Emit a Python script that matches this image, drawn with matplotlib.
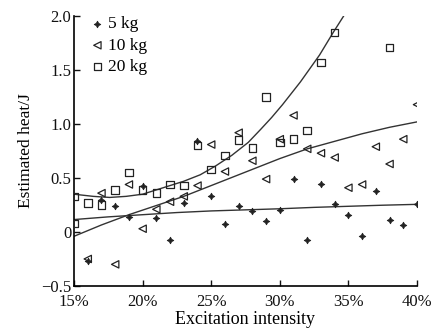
import matplotlib
matplotlib.use("Agg")
import matplotlib.pyplot as plt

# Excitation intensity (%) and estimated heat (J) per load
x_5kg = [16, 17, 18, 19, 20, 21, 22, 23, 24, 25, 26, 27, 28, 29, 30,
         31, 32, 33, 34, 35, 36, 37, 38, 39, 40]
y_5kg = [-0.27, 0.30, 0.24, 0.14, 0.43, 0.13, -0.07, 0.27, 0.84, 0.33, 0.07, 0.24, 0.19, 0.10, 0.20,
         0.49, -0.07, 0.44, 0.26, 0.16, -0.04, 0.38, 0.11, 0.06, 0.26]

x_10kg = [16, 17, 18, 19, 20, 21, 22, 23, 24, 25, 26, 27, 28, 29, 30,
          31, 32, 33, 34, 35, 36, 37, 38, 39, 40]
y_10kg = [-0.25, 0.36, -0.30, 0.44, 0.03, 0.21, 0.28, 0.33, 0.43, 0.81, 0.56, 0.92, 0.66, 0.49, 0.86,
          1.08, 0.77, 0.73, 0.69, 0.41, 0.44, 0.79, 0.63, 0.86, 1.18]

x_20kg = [15, 15, 16, 17, 18, 19, 20, 21, 22, 23, 24, 25, 26, 27, 28,
          29, 30, 31, 32, 33, 34, 38]
y_20kg = [0.33, 0.08, 0.27, 0.25, 0.39, 0.55, 0.39, 0.36, 0.44, 0.43, 0.80, 0.58, 0.71, 0.85, 0.78,
          1.25, 0.83, 0.86, 0.94, 1.57, 1.85, 1.71]

# trend curves
fit_x_5kg = [15, 17.5, 20, 22.5, 25, 27.5, 30, 32.5, 35, 37.5, 40]
fit_y_5kg = [0.115, 0.14, 0.16, 0.18, 0.195, 0.205, 0.215, 0.228, 0.238, 0.248, 0.256]

fit_x_10kg = [15, 17, 19, 21, 23, 25.6, 28, 30, 32, 34, 36, 38, 40]
fit_y_10kg = [-0.04, 0.065, 0.16, 0.245, 0.33, 0.46, 0.58, 0.68, 0.77, 0.84, 0.91, 0.97, 1.02]

fit_x_20kg = [15, 16.4, 17.6, 18.8, 20, 21, 22, 23, 24.2, 25.3, 26.5, 27.7, 28.6,
              29.4, 30.2, 31.5, 32.9, 33.9, 34.65]
fit_y_20kg = [0.35, 0.33, 0.32, 0.33, 0.35, 0.39, 0.43, 0.47, 0.53, 0.61, 0.71, 0.83, 0.95,
              1.06, 1.18, 1.39, 1.64, 1.85, 2.0]

labels = ["5 kg", "10 kg", "20 kg"]

plt.rcParams["font.family"] = ["Liberation Serif", "DejaVu Serif"]

fig = plt.figure(figsize=(4.38, 3.36), dpi=100)
ax = fig.add_axes([0.169, 0.149, 0.783, 0.803])

series = [(x_5kg, y_5kg), (x_10kg, y_10kg), (x_20kg, y_20kg)]
fits = [(fit_x_5kg, fit_y_5kg), (fit_x_10kg, fit_y_10kg), (fit_x_20kg, fit_y_20kg)]
markers = [dict(marker=(4, 1, 0), s=22, facecolors="#222222", edgecolors="#222222", linewidths=0.6),
           dict(marker="<", s=28, facecolors="none", edgecolors="#222222", linewidths=0.9),
           dict(marker="s", s=30, facecolors="none", edgecolors="#222222", linewidths=0.9)]

for (xs, ys), (fx, fy), lab, mk in zip(series, fits, labels, markers):
    ax.scatter(xs, ys, label=lab, zorder=3, **mk)
    ax.plot(fx, fy, color="#333333", linewidth=1.0, zorder=2, solid_joinstyle="round")

ax.set_xlim(15, 40)
ax.set_ylim(-0.5, 2.0)
ax.set_xticks([15, 20, 25, 30, 35, 40])
ax.set_xticklabels(["15%", "20%", "25%", "30%", "35%", "40%"])
ax.set_yticks([-0.5, 0, 0.5, 1.0, 1.5, 2.0])
ax.set_yticklabels(["\u22120.5", "0", "0.5", "1.0", "1.5", "2.0"])
ax.tick_params(direction="in", length=4, width=1, labelsize=12, colors="#111111")
ax.tick_params(axis="x", pad=5.5)
ax.tick_params(axis="y", pad=2)
for side in ["top", "right"]:
    ax.spines[side].set_visible(False)
for side in ["left", "bottom"]:
    ax.spines[side].set_linewidth(1.2)

ax.set_xlabel("Excitation intensity", fontsize=13, labelpad=1)
ax.set_ylabel("Estimated heat/J", fontsize=12.5, labelpad=5)

ax.legend(loc="upper left", bbox_to_anchor=(0.02, 1.025), frameon=False,
          fontsize=12.5, handletextpad=0.05, labelspacing=0.3, borderaxespad=0,
          handlelength=1.1)

fig.savefig("out.png", dpi=100)
